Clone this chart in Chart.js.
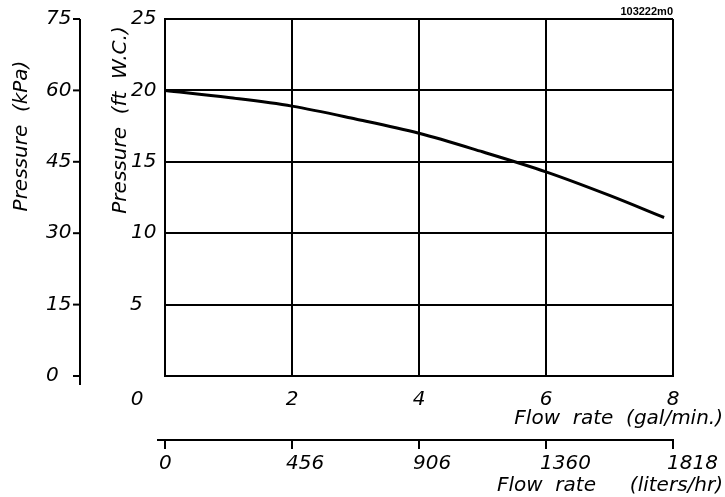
<!DOCTYPE html>
<html>
<head>
<meta charset="utf-8">
<script src="https://cdn.jsdelivr.net/npm/chart.js@4/dist/chart.umd.min.js"></script>
<style>
  html, body { margin: 0; padding: 0; background: #fff; }
  #wrap { width: 725px; height: 497px; }
</style>
</head>
<body>
<div id="wrap"><canvas id="pump-chart" width="725" height="497"></canvas></div>
<script>
// Pump curve data
const flowGpm = [0, 1, 2, 3, 4, 5, 6, 7, 7.86];
const pressureFt = [20, 19.5, 18.9, 18.0, 17.0, 15.7, 14.3, 12.65, 11.1];

// Axis tick labels
const ftTicks = [0, 5, 10, 15, 20, 25];
const kpaLabels = ['0', '15', '30', '45', '60', '75'];
const gpmTicks = [0, 2, 4, 6, 8];
const litersLabels = ['0', '456', '906', '1360', '1818'];

const drawingId = '103222m0';
const labelFont = 'italic 20px "DejaVu Sans", sans-serif';

// Extra axes and labels drawn after the chart
const axesPlugin = {
    id: 'pumpAxes',
    afterDraw(chart) {
        const ctx = chart.ctx;
        const xs = chart.scales.x;
        const ys = chart.scales.y;
        const area = chart.chartArea;
        ctx.save();
        ctx.fillStyle = '#000';
        ctx.strokeStyle = '#000';
        ctx.lineWidth = 2;
        ctx.font = labelFont;
        ctx.textBaseline = 'middle';

        // kPa axis
        const kx = 80;
        ctx.beginPath();
        ctx.moveTo(kx, area.top);
        ctx.lineTo(kx, area.bottom + 9);
        ctx.stroke();
        ftTicks.forEach((v, i) => {
            const py = ys.getPixelForValue(v);
            ctx.beginPath();
            ctx.moveTo(kx - 7, py);
            ctx.lineTo(kx, py);
            ctx.stroke();
            ctx.textAlign = 'left';
            ctx.fillText(kpaLabels[i], 46, py);
        });

        // ft W.C. labels
        ftTicks.forEach(v => {
            const py = ys.getPixelForValue(v);
            if (v === 0) return;
            ctx.textAlign = 'left';
            ctx.fillText(String(v), v < 10 ? 130 : 131, py);
        });

        // gal/min labels
        gpmTicks.forEach(v => {
            const px = xs.getPixelForValue(v);
            ctx.textAlign = 'center';
            ctx.fillText(String(v), v === 0 ? 137 : px, 400);
        });
        ctx.textAlign = 'right';
        ctx.fillText('Flow  rate  (gal/min.)', 723, 419);

        // liters/hr axis
        const ly = 440;
        ctx.beginPath();
        ctx.moveTo(157, ly);
        ctx.lineTo(xs.getPixelForValue(8) + 1, ly);
        ctx.stroke();
        gpmTicks.forEach((v, i) => {
            const px = xs.getPixelForValue(v);
            ctx.beginPath();
            ctx.moveTo(px, ly);
            ctx.lineTo(px, ly + 9);
            ctx.stroke();
            ctx.textAlign = 'left';
            ctx.fillText(litersLabels[i], px - 6, 464);
        });
        ctx.textAlign = 'left';
        ctx.fillText('Flow  rate', 497, 486);
        ctx.textAlign = 'right';
        ctx.fillText('(liters/hr)', 723, 486);

        // rotated axis titles
        ctx.textAlign = 'center';
        ctx.save();
        ctx.translate(22, 136);
        ctx.rotate(-Math.PI / 2);
        ctx.fillText('Pressure  (kPa)', 0, 0);
        ctx.restore();
        ctx.save();
        ctx.translate(121, 120);
        ctx.rotate(-Math.PI / 2);
        ctx.fillText('Pressure  (ft  W.C.)', 0, 0);
        ctx.restore();

        // drawing id
        ctx.font = 'bold 11px "Liberation Sans", Arial, sans-serif';
        ctx.textAlign = 'right';
        ctx.fillText(drawingId, 673, 12);
        ctx.restore();
    }
};

function initChart() {
    const ctx = document.getElementById('pump-chart').getContext('2d');
    return new Chart(ctx, {
        type: 'line',
        data: {
            datasets: [{
                data: flowGpm.map((x, i) => ({ x: x, y: pressureFt[i] })),
                borderColor: '#000',
                borderWidth: 3,
                pointRadius: 0,
                fill: false,
                cubicInterpolationMode: 'monotone'
            }]
        },
        options: {
            responsive: false,
            animation: false,
            layout: {
                padding: { left: 165, top: 19, right: 52, bottom: 121 }
            },
            plugins: {
                legend: { display: false },
                tooltip: { enabled: false }
            },
            scales: {
                x: {
                    type: 'linear',
                    min: 0,
                    max: 8,
                    ticks: { stepSize: 2, display: false },
                    grid: { color: '#000', lineWidth: 2, drawTicks: false },
                    border: { color: '#000', width: 2 }
                },
                y: {
                    type: 'linear',
                    min: 0,
                    max: 25,
                    ticks: { stepSize: 5, display: false },
                    grid: { color: '#000', lineWidth: 2, drawTicks: false },
                    border: { color: '#000', width: 2 }
                }
            }
        },
        plugins: [axesPlugin]
    });
}

initChart();
</script>
</body>
</html>
